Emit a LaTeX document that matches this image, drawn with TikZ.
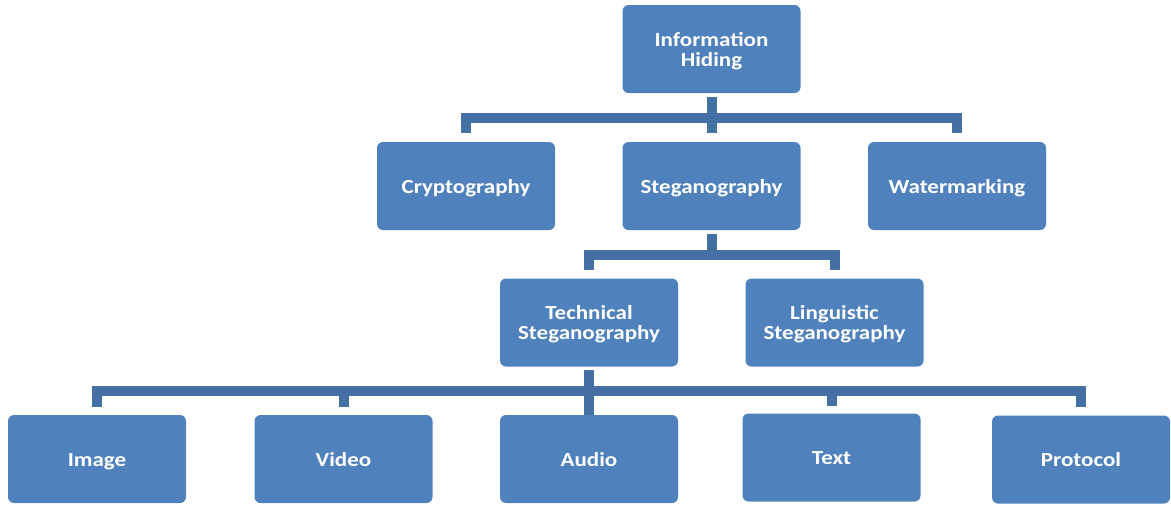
\documentclass[tikz,border=0pt]{standalone}
\usepackage{fontspec}
\setmainfont[FakeStretch=1.15]{Carlito}
% label set a little below the box centre, keeping its natural size
\newcommand\boxlabel[1]{\raisebox{-3pt}[\height][\depth]{\begin{tabular}{@{}c@{}}#1\end{tabular}}}
\begin{document}
\begin{tikzpicture}[x=1pt,y=-1pt,
  box/.style={draw=none, fill=boxblue, rounded corners=6pt,
    minimum width=178pt, minimum height=88pt, inner sep=0pt,
    text=white,
    font=\fontsize{20}{20}\selectfont\bfseries},
  conn/.style={draw=linkblue, line width=10pt, line cap=butt, line join=miter},
]
\definecolor{boxblue}{HTML}{4F81BD}
\definecolor{linkblue}{HTML}{4470A4}
\useasboundingbox (0,0) rectangle (1171,504);

% level 1
\node[box] (ih) at (711.5,49) {\boxlabel{Information\\Hiding}};
% level 2
\node[box] (cryp) at (466,186) {\boxlabel{Cryptography}};
\node[box] (steg) at (711.5,186) {\boxlabel{Steganography}};
\node[box] (wm)   at (957,186) {\boxlabel{Watermarking}};
% level 3
\node[box] (tech) at (589,322.5) {\boxlabel{Technical\\Steganography}};
\node[box] (ling) at (834.5,322.5) {\boxlabel{Linguistic\\Steganography}};
% level 4
\node[box] (img)  at (97,459) {\boxlabel{Image}};
\node[box] (vid)  at (343.5,459) {\boxlabel{Video}};
\node[box] (aud)  at (589,459) {\boxlabel{Audio}};
\node[box] (txt)  at (831.5,457.5) {\boxlabel{Text}};
\node[box] (prot) at (1081,459.5) {\boxlabel{Protocol}};

% bus heights
\coordinate (b1) at (0,118);
\coordinate (b2) at (0,255);
\coordinate (b3) at (0,391);

% Information Hiding -> level 2
\draw[conn, shorten <=9pt, shorten >=9pt]
  (cryp.north) -- (cryp.north |- b1) -- (wm.north |- b1) -- (wm.north);
\draw[conn, shorten <=4pt, shorten >=9pt] (ih.south) -- (steg.north);

% Steganography -> level 3
\draw[conn, shorten <=8pt, shorten >=8pt]
  (tech.north) -- (tech.north |- b2) -- (ling.north |- b2) -- (ling.north);
\draw[conn, shorten <=4pt] (steg.south) -- (steg.south |- b2);

% Technical Steganography -> level 4
\draw[conn, shorten <=8pt, shorten >=8pt]
  (img.north) -- (img.north |- b3) -- (prot.north |- b3) -- (prot.north);
\draw[conn, shorten <=3pt] (tech.south) -- (aud.north);
\draw[conn, shorten >=8pt] (vid.north |- b3) -- (vid.north);
\draw[conn, shorten >=7pt] (txt.north |- b3) -- (txt.north);
\end{tikzpicture}
\end{document}
